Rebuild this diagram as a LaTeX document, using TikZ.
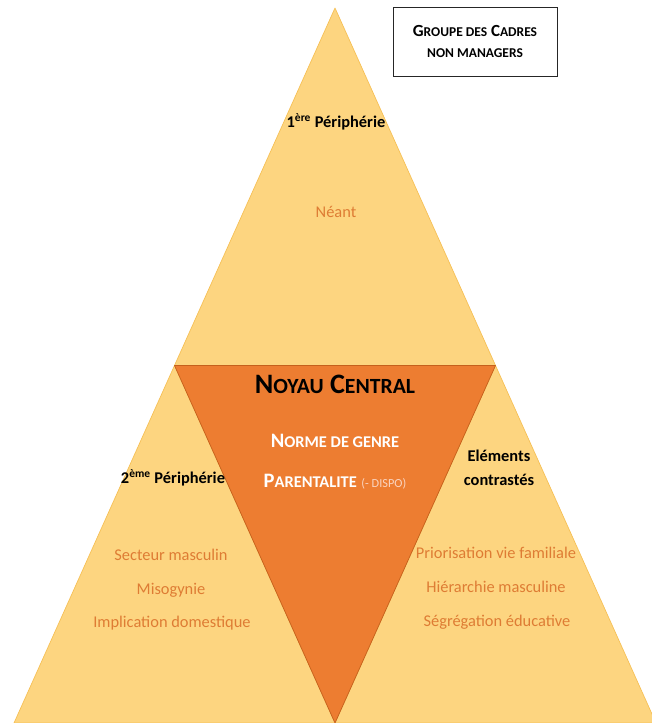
\documentclass[tikz,border=0pt]{standalone}
\usepackage{fontspec}
\setmainfont{Carlito}
\definecolor{jaune}{RGB}{253,213,128}
\definecolor{jauneBord}{RGB}{246,192,86}
\definecolor{orangeNoyau}{RGB}{237,125,49}
\definecolor{orangeBord}{RGB}{197,96,28}
\definecolor{texteOrange}{RGB}{222,124,52}
\definecolor{roseDispo}{RGB}{250,212,192}
% fausses petites capitales
\newcommand{\pc}[2]{{\fontsize{#1}{#1}\selectfont #2}}

\begin{document}
\begin{tikzpicture}[x=0.03cm, y=-0.03cm,
      P/.style={fill=jaune, draw=jauneBord, line width=0.6pt, line join=round},
      T/.style={text=texteOrange, font=\fontsize{14}{17}\selectfont},
      H/.style={font=\bfseries\fontsize{14}{17}\selectfont, align=center, inner sep=0pt}
    ]
    \useasboundingbox (0,0) rectangle (652,723);
    \begin{scope}
      \clip (0,0) rectangle (652,723);
      \filldraw [P] (335,8) -- (495.5,365.5) -- (174.5,365.5) -- cycle;
      \filldraw [P] (174.5,365.5) -- (335,723) -- (14,723) -- cycle;
      \filldraw [P] (495.5,365.5) -- (656,723) -- (335,723) -- cycle;
      \filldraw [fill=orangeNoyau, draw=orangeBord, line width=0.6pt, line join=round]
        (174.5,365.5) -- (495.5,365.5) -- (335,723) -- cycle;
    \end{scope}

    % titre
    \draw (475,41.5) node [draw=black!85, line width=0.8pt, minimum width=4.92cm,
      minimum height=2.07cm, align=center, font=\bfseries\fontsize{14.5}{18}\selectfont] (groupe)
      {G\pc{11.5}{ROUPE DES} C\pc{11.5}{ADRES}\\\pc{11.5}{NON MANAGERS}};

    % 1ere peripherie
    \draw (336,122) node [H] (peri1) {1\textsuperscript{ère} Périphérie};
    \draw (336,212) node [T] (neant) {Néant};

    % noyau
    \draw (335,384) node [font=\bfseries\fontsize{24}{28}\selectfont] (noyau)
      {N\pc{18.5}{OYAU} C\pc{18.5}{ENTRAL}};
    \draw (335,441) node [text=white, font=\bfseries\fontsize{17.5}{20}\selectfont] (norme)
      {N\pc{14}{ORME DE GENRE}};
    \draw (335,482) node [text=white, font=\bfseries\fontsize{17.5}{20}\selectfont] (parent)
      {P\pc{14}{ARENTALITE} {\color{roseDispo}\mdseries\pc{10.5}{(- DISPO)}}};

    % 2eme peripherie
    \draw (173,478) node [H] (peri2) {2\textsuperscript{ème} Périphérie};
    \draw (171,555) node [T] (secteur) {Secteur masculin};
    \draw (171,590) node [T] (miso) {Misogynie};
    \draw (172,623) node [T] (implic) {Implication domestique};

    % elements contrastes
    \draw (499,468) node [H, font=\bfseries\fontsize{14}{20}\selectfont] (contraste) {Eléments\\contrastés};
    \draw (496,553) node [T] (prio) {Priorisation vie familiale};
    \draw (496,587) node [T] (hier) {Hiérarchie masculine};
    \draw (497,622) node [T] (segreg) {Ségrégation éducative};
  \end{tikzpicture}
\end{document}
